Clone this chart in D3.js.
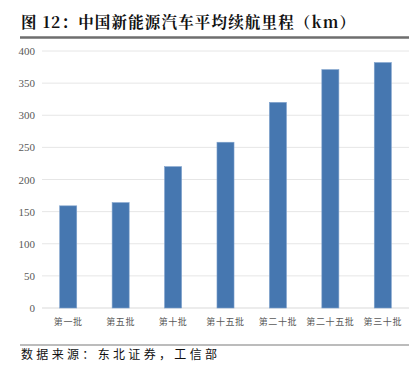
<!DOCTYPE html>
<html>
<head>
<meta charset="utf-8">
<script src="https://cdn.jsdelivr.net/npm/d3@7"></script>
<style>
  body { margin: 0; background: #fff; }
  svg text { font-family: "Noto Sans CJK SC", "DejaVu Sans", sans-serif; }
</style>
</head>
<body>
<div id="chart"></div>
<script>
// chart data
const categories = ["第一批", "第五批", "第十批", "第十五批", "第二十批", "第二十五批", "第三十批"];
const values = [159, 164, 220, 258, 320, 371, 382];
const yTicks = [0, 50, 100, 150, 200, 250, 300, 350, 400];

const W = 416, H = 372;
const plot = {left: 42, right: 409, top: 51, bottom: 308};

const svg = d3.select("#chart").append("svg")
    .attr("width", W)
    .attr("height", H);

// title
svg.append("text")
    .attr("x", 21)
    .attr("y", 28)
    .attr("textLength", 334)
    .attr("lengthAdjust", "spacing")
    .style("font-family", "'Noto Serif CJK SC', 'Noto Sans CJK SC', serif")
    .style("font-size", "15.5px")
    .style("font-weight", "bold")
    .attr("fill", "#111")
    .text("图 12：中国新能源汽车平均续航里程（km）");

svg.append("line")
    .attr("x1", 20).attr("x2", 409)
    .attr("y1", 37.5).attr("y2", 37.5)
    .attr("stroke", "#6e6e6e")
    .attr("stroke-width", 2.5);

// scales
const x = d3.scaleBand()
    .domain(categories)
    .range([plot.left, plot.right])
    .paddingInner(0.675)
    .paddingOuter(0.3375);

const y = d3.scaleLinear()
    .domain([0, 400])
    .range([plot.bottom, plot.top]);

// gridlines
svg.append("g")
    .selectAll("line")
    .data(yTicks)
    .join("line")
    .attr("x1", plot.left)
    .attr("x2", plot.right)
    .attr("y1", d => y(d))
    .attr("y2", d => y(d))
    .attr("stroke", d => d === 0 ? "#d9d9d9" : "#e6e6e6")
    .attr("stroke-width", 1);

// y axis
const yAxis = svg.append("g")
    .attr("transform", `translate(${plot.left},0)`)
    .call(d3.axisLeft(y).tickValues(yTicks).tickSize(0).tickPadding(7));
yAxis.select(".domain").remove();
yAxis.selectAll("text")
    .attr("fill", "#595959")
    .style("font-family", "'Liberation Serif', serif")
    .style("font-size", "11px");

// bars
svg.append("g")
    .selectAll("rect")
    .data(values)
    .join("rect")
    .attr("x", (d, i) => x(categories[i]))
    .attr("y", d => y(d))
    .attr("width", x.bandwidth())
    .attr("height", d => y(0) - y(d))
    .attr("fill", "#4677b0")
    .attr("stroke", "#7ea1cc")
    .attr("stroke-width", 0.6);

// x axis
const xAxis = svg.append("g")
    .attr("transform", `translate(0,${plot.bottom})`)
    .call(d3.axisBottom(x).tickSize(0).tickPadding(11));
xAxis.select(".domain").remove();
xAxis.selectAll("text")
    .attr("fill", "#595959")
    .style("letter-spacing", "0.6px")
    .style("font-size", "9px");

// source
svg.append("line")
    .attr("x1", 20).attr("x2", 409)
    .attr("y1", 345).attr("y2", 345)
    .attr("stroke", "#a6a6a6")
    .attr("stroke-width", 1.5);

svg.append("text")
    .attr("x", 21)
    .attr("y", 359)
    .attr("textLength", 196)
    .attr("lengthAdjust", "spacing")
    .attr("fill", "#111")
    .style("font-size", "12px")
    .text("数据来源：东北证券，工信部");
</script>
</body>
</html>
